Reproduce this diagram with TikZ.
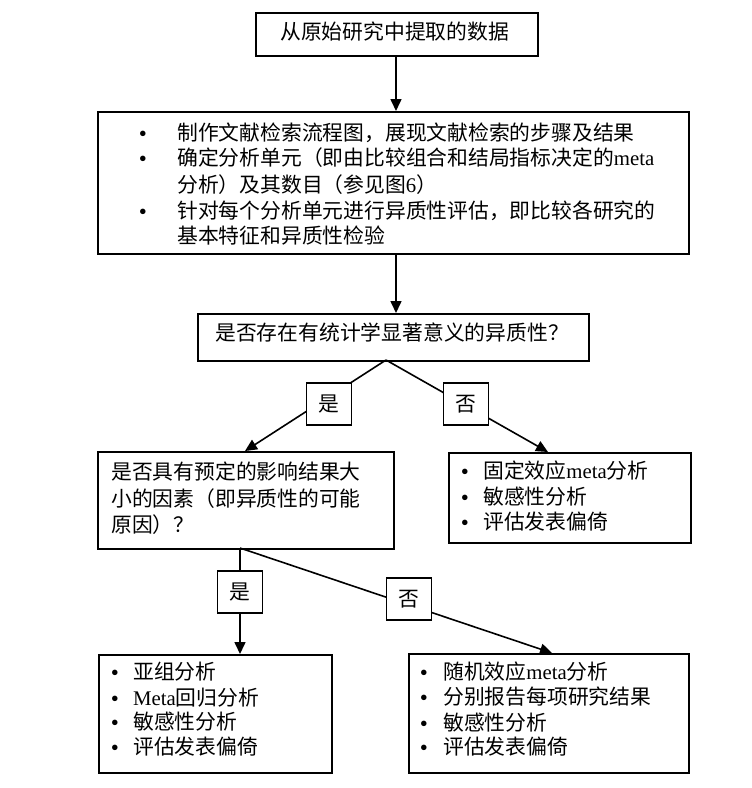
\documentclass[tikz,border=0pt]{standalone}
\usepackage{fontspec}
\setmainfont{Noto Sans CJK SC}
\newfontfamily\lat{Liberation Serif}
\usetikzlibrary{arrows.meta}
\tikzset{
  box/.style={draw, line width=1.6pt, anchor=north west, inner sep=0pt},
  txt/.style={anchor=west, inner sep=0pt, font=\fontsize{20.8}{26}\selectfont, align=left},
  bul/.style={anchor=center, inner sep=0pt, yshift=-3pt, font=\fontsize{23}{26}\selectfont\lat},
  lab/.style={draw, line width=1.6pt, fill=white, minimum width=45pt, minimum height=42pt, inner sep=0pt, font=\fontsize{20.8}{26}\selectfont},
  arr/.style={line width=1.6pt, -{Triangle[length=12pt,width=11pt]}},
}
\begin{document}
\begin{tikzpicture}[x=1pt,y=-1pt]
\useasboundingbox[fill=white] (0,0) rectangle (752,788);
% boxes
\node[box, minimum width=282pt, minimum height=43pt] (b1) at (255,12) {};
\node[box, minimum width=591pt, minimum height=142pt] (b2) at (97,111) {};
\node[box, minimum width=391pt, minimum height=47pt] (b3) at (197,313) {};
\node[box, minimum width=296pt, minimum height=97pt] (b4) at (97,451) {};
\node[box, minimum width=242pt, minimum height=90pt] (b5) at (448,452) {};
\node[box, minimum width=233pt, minimum height=118pt] (b6) at (98,654) {};
\node[box, minimum width=280pt, minimum height=119pt] (b7) at (408,653) {};
% texts
\node[txt] (t1) at (280,32) {从原始研究中提取的数据};
\node[bul] (u21) at (143,133) {•};
\node[bul] (u22) at (143,158) {•};
\node[bul] (u23) at (143,211) {•};
\node[txt] (t21) at (177,133) {制作文献检索流程图，展现文献检索的步骤及结果};
\node[txt] (t22) at (177,158) {确定分析单元（即由比较组合和结局指标决定的{\lat meta}};
\node[txt] (t23) at (177,185) {分析）及其数目（参见图{\lat 6}）};
\node[txt] (t24) at (177,211) {针对每个分析单元进行异质性评估，即比较各研究的};
\node[txt] (t25) at (177,236) {基本特征和异质性检验};
\node[txt] (t3) at (215,333) {是否存在有统计学显著意义的异质性？};
\node[txt] (t41) at (111,472) {是否具有预定的影响结果大};
\node[txt] (t42) at (111,499) {小的因素（即异质性的可能};
\node[txt] (t43) at (111,525) {原因）？};
\node[bul] (u51) at (465,471) {•};
\node[bul] (u52) at (465,497) {•};
\node[bul] (u53) at (465,522) {•};
\node[txt] (t51) at (483,471) {固定效应{\lat meta}分析};
\node[txt] (t52) at (483,497) {敏感性分析};
\node[txt] (t53) at (483,522) {评估发表偏倚};
\node[bul] (u61) at (115,672) {•};
\node[bul] (u62) at (115,698) {•};
\node[bul] (u63) at (115,722) {•};
\node[bul] (u64) at (115,747) {•};
\node[txt] (t61) at (133,672) {亚组分析};
\node[txt] (t62) at (133,698) {{\lat Meta}回归分析};
\node[txt] (t63) at (133,722) {敏感性分析};
\node[txt] (t64) at (133,747) {评估发表偏倚};
\node[bul] (u71) at (424,672) {•};
\node[bul] (u72) at (424,697) {•};
\node[bul] (u73) at (424,723) {•};
\node[bul] (u74) at (424,747) {•};
\node[txt] (t71) at (443,672) {随机效应{\lat meta}分析};
\node[txt] (t72) at (443,697) {分别报告每项研究结果};
\node[txt] (t73) at (443,723) {敏感性分析};
\node[txt] (t74) at (443,747) {评估发表偏倚};
% connectors
\coordinate (a3) at (386,360);
\coordinate (a4) at (240,548);
\draw[arr] (b1.south -| 396,0) -- (b2.north -| 396,0);
\draw[arr] (b2.south -| 396,0) -- (b3.north -| 396,0);
\draw[arr] (a3) -- (b4.north -| 245,0);
\draw[arr] (a3) -- (b5.north -| 548,0);
\draw[arr] (a4) -- (b6.north -| 240,0);
\draw[arr] (a4) -- (b7.north -| 552,0);
% labels
\node[lab] (y1) at (329,404) {是};
\node[lab] (n1) at (466,404) {否};
\node[lab] (y2) at (240,592) {是};
\node[lab] (n2) at (409,599) {否};
\end{tikzpicture}
\end{document}
